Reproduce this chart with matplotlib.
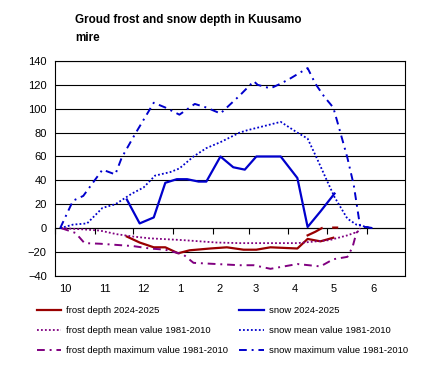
import numpy as np
import matplotlib
matplotlib.use("Agg")
import matplotlib.pyplot as plt

plt.rcParams['font.family'] = ['Liberation Sans', 'DejaVu Sans']

# days counted from 1 October
month_starts = [0, 31, 61, 92, 123, 151, 182, 212, 243]
month_labels = ['10', '11', '12', '1', '2', '3', '4', '5', '6']

snow_max_day = [4, 14, 22, 37, 47, 52, 62, 77, 86, 97, 109, 118, 129, 144, 155, 158, 168, 176,
                183, 197, 203, 210, 217, 221, 228, 233, 235, 238, 243, 248]
snow_max = [0, 23, 27, 49, 45, 59, 78, 105, 101, 95, 104, 101, 96, 111, 123, 120, 117, 121,
            125, 134, 121, 110, 101, 86, 59, 36, 22, 1, 1, 0]

snow_mean_day = [4, 14, 25, 37, 47, 60, 69, 78, 90, 97, 108, 118, 129, 144, 150, 165, 176,
                 189, 197, 204, 212, 218, 228, 235, 243, 248]
snow_mean = [0, 3, 4, 17, 20, 29, 34, 44, 47, 50, 60, 67, 72, 80, 82, 86, 89,
             80, 75, 59, 40, 26, 8, 3, 1, 0]

snow_day = [56, 66, 77, 86, 95, 103, 112, 118, 129, 139, 148, 157, 165, 176, 189, 197, 207, 218]
snow = [24, 4, 9, 38, 41, 41, 39, 39, 60, 51, 49, 60, 60, 60, 42, 1, 14, 29]

frost_day = [56, 66, 77, 86, 96, 105, 121, 134, 147, 157, 168, 189, 197, 207, 217]
frost = [-7, -12, -16, -16, -21, -18.5, -17, -16, -18, -18, -16, -17, -9, -11, -8]

# upper boundary of the frost layer during thaw
frost_top_day = [197, 203, 208, 212, 217, 220]
frost_top = [-6, -3, 0, np.nan, 0.5, 0.5]

frost_mean_day = [5, 22, 35, 48, 61, 74, 100, 126, 144, 189, 204, 214, 228, 236, 238]
frost_mean = [0, -1, -2, -5, -7, -8.5, -10, -12, -12.5, -12.5, -11, -10, -6, -3, 0]

frost_max_day = [5, 16, 23, 35, 61, 74, 86, 100, 108, 144, 155, 168, 189, 207, 217, 228,
                 232, 235, 238]
frost_max = [0, -4, -12.5, -13, -15, -17, -18, -22, -29, -31, -31, -34, -30, -32, -26, -24,
             -16, -4, 0]

red = '#990000'
purple = '#800080'
blue = '#0000CC'
dot = (0, (1, 1.2))
dashdot = (0, (4, 2.5, 1, 2.5))

fig = plt.figure(figsize=(4.3, 3.76), dpi=100)
ax = fig.add_axes([0.128, 0.266, 0.814, 0.572])

ax.plot(frost_day, frost, color=red, lw=1.6, label='frost depth 2024-2025')
ax.plot(frost_mean_day, frost_mean, color=purple, lw=1.3, ls=dot,
        label='frost depth mean value 1981-2010')
ax.plot(frost_max_day, frost_max, color=purple, lw=1.4, ls=dashdot,
        label='frost depth maximum value 1981-2010')
ax.plot(snow_day, snow, color=blue, lw=1.6, label='snow 2024-2025')
ax.plot(snow_mean_day, snow_mean, color=blue, lw=1.3, ls=dot,
        label='snow mean value 1981-2010')
ax.plot(snow_max_day, snow_max, color=blue, lw=1.4, ls=dashdot,
        label='snow maximum value 1981-2010')
ax.plot(frost_top_day, frost_top, color=red, lw=1.6)

ax.set_xlim(0, 273)
ax.set_ylim(-40, 140)
ax.set_yticks(range(-40, 141, 20))
ax.yaxis.grid(True, color='black', lw=0.8)
ax.set_axisbelow(True)
ax.tick_params(axis='y', length=0, labelsize=8, pad=6)

ax.set_xticks([m + 3 for m in month_starts], month_labels)
ax.tick_params(axis='x', length=0, labelsize=8, pad=6)
for t in ax.get_xticklabels():
    t.set_ha('left')

# horizontal axis crossing at zero with month tick marks
zero_ax = ax.secondary_xaxis(0, transform=ax.transData)
zero_ax.set_xticks(month_starts, [''] * len(month_starts))
zero_ax.tick_params(length=4, width=0.8, direction='out')
zero_ax.spines['bottom'].set_linewidth(0.8)

for s in ax.spines.values():
    s.set_linewidth(0.8)

fig.text(0.175, 0.962, 'Groud frost and snow depth in Kuusamo\nmire', fontsize=8.4,
         fontweight='bold', va='top', linespacing=1.6)

fig.legend(loc='upper left', bbox_to_anchor=(0.077, 0.195), ncol=2, frameon=False,
           fontsize=6.8, handlelength=2.6, handletextpad=0.5, columnspacing=1.2,
           labelspacing=1.15, borderaxespad=0)

fig.savefig('out.png', dpi=100)
